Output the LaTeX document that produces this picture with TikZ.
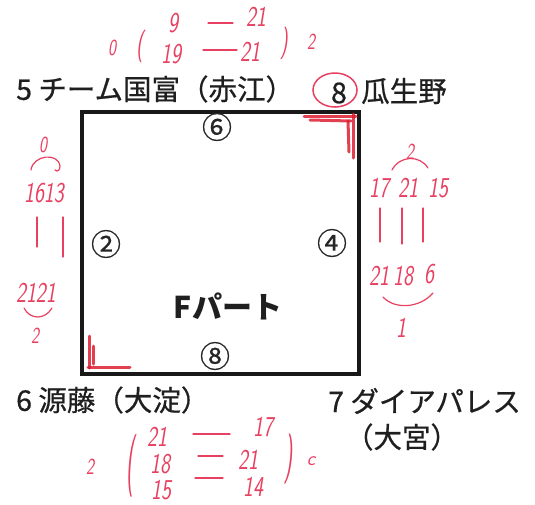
\documentclass[tikz,border=0pt]{standalone}
\usepackage{fontspec}
\newfontfamily\jp[FakeBold=0.6]{Noto Sans CJK JP}
\newfontfamily\jpb{Noto Sans CJK JP}
\definecolor{pen}{RGB}{232,64,96}
\definecolor{marker}{RGB}{222,30,50}
\newcommand\hwt[1]{\scalebox{0.85}[1.15]{#1}}
\begin{document}
\begin{tikzpicture}[x=1pt,y=-1pt,
  lbl/.style={font=\jp\fontsize{28.5}{28.5}\selectfont, inner sep=0pt, text=black!88},
  circ/.style={font=\jp\fontsize{30}{30}\selectfont, inner sep=0pt, text=black!85},
  hw/.style={font=\sffamily\itshape\fontsize{25}{25}\selectfont, text=pen, inner sep=0pt},
  hws/.style={hw, font=\sffamily\itshape\fontsize{20}{20}\selectfont},
  penline/.style={draw=pen, line width=1.2pt, line cap=round},
  mk/.style={draw=marker, line width=3pt, line cap=round, opacity=0.85}]
\useasboundingbox (0,0) rectangle (535,504);
\fill[white] (0,0) rectangle (535,504);

% box
\node[draw=black!90, line width=3.8pt, minimum width=277pt, minimum height=262pt, inner sep=0pt] (box) at (220.5,243) {};

% red corner marks
\draw[mk] (304,116) -- (356,116);
\draw[mk] (310,120) -- (351,121);
\draw[mk] (353,114) -- (353,158);
\draw[mk] (348,121) -- (349,152);
\draw[mk] (89,336) -- (89,368);
\draw[mk] (93,346) -- (93,364);
\draw[mk] (88,367) -- (130,367);

% team labels
\node[lbl, anchor=west] (t5) at (16,89) {5 チーム国富（赤江）};
\node[lbl] (n8) at (339,93) {8};
\node[lbl, anchor=west] (t8) at (361,91) {瓜生野};
\node[lbl, anchor=west] (t6) at (16,400) {6 源藤（大淀）};
\node[lbl, anchor=west] (t7) at (328,401) {7 ダイアパレス};
\node[lbl] (t7b) at (402,437) {（大宮）};
\draw[pen, line width=1.5pt] (n8.center) ++(-4,-3) ellipse [x radius=22, y radius=17];

% match numbers
\node[circ] (m6) at (217,127) {⑥};
\node[circ] (m2) at (106,244) {②};
\node[circ] (m4) at (332,243) {④};
\node[circ] (m8) at (215,356) {⑧};
\node[font=\jpb\bfseries\fontsize{30}{30}\selectfont, inner sep=0pt, text=black!88] (fp) at (228,306) {Fパート};

% top score 5 vs 8
\node[hw] (a1) at (173,23) {\hwt{9}};
\node[hw] (a2) at (256,17) {\hwt{21}};
\node[hws] (a0) at (112,48) {\hwt{0}};
\node[hw] (ap) at (140,46) {\scalebox{0.8}[1.3]{(}};
\node[hw] (a3) at (171,54) {\hwt{19}};
\node[hw] (a4) at (250,52) {\hwt{21}};
\node[hw] (aq) at (284,43) {\scalebox{0.8}[1.3]{)}};
\node[hws] (a5) at (311,42) {\hwt{2}};
\coordinate (d1a) at (208,23); \coordinate (d1b) at (233,23);
\coordinate (d2a) at (203,50); \coordinate (d2b) at (237,50);
\draw[penline] (d1a) -- (d1b);
\draw[penline] (d2a) -- (d2b);

% left score 5 vs 6
\node[hws] (b0) at (43,145) {\hwt{0}};
\node[hw] (b1) at (44,193) {\hwt{1613}};
\node[hw] (b2) at (36,293) {\hwt{2121}};
\node[hws] (b3) at (35,336) {\hwt{2}};
\coordinate (bl1a) at (37,217); \coordinate (bl1b) at (37,247);
\coordinate (bl2a) at (63,217); \coordinate (bl2b) at (63,257);
\draw[penline] (bl1a) -- (bl1b);
\draw[penline] (bl2a) -- (bl2b);
\draw[penline] (31,170) .. controls (33,155) and (58,152) .. (60,166) .. controls (60,171) and (57,172) .. (55,170);
\draw[penline] (24,308) .. controls (30,320) and (45,320) .. (52,308);

% right score 8 vs 7
\node[hws] (c0) at (410,152) {\hwt{2}};
\node[hw] (c1) at (379,188) {\hwt{17}};
\node[hw] (c2) at (408,188) {\hwt{21}};
\node[hw] (c3) at (438,188) {\hwt{15}};
\node[hw] (c4) at (379,276) {\hwt{21}};
\node[hw] (c5) at (403,276) {\hwt{18}};
\node[hw] (c6) at (429,274) {\hwt{6}};
\node[hw] (c7) at (401,328) {\hwt{1}};
\coordinate (cl1a) at (380,208); \coordinate (cl1b) at (380,242);
\coordinate (cl2a) at (402,208); \coordinate (cl2b) at (402,244);
\coordinate (cl3a) at (423,208); \coordinate (cl3b) at (423,242);
\draw[penline] (cl1a) -- (cl1b);
\draw[penline] (cl2a) -- (cl2b);
\draw[penline] (cl3a) -- (cl3b);
\draw[penline] (392,170) .. controls (400,155) and (420,155) .. (428,168);
\draw[penline] (383,297) .. controls (395,310) and (420,308) .. (433,293);

% bottom score 6 vs 7
\node[hws] (e0) at (90,467) {\hwt{2}};
\node[hw] (ep) at (131,466) {\scalebox{0.9}[2.5]{(}};
\node[hw] (e1) at (157,437) {\hwt{21}};
\node[hw] (e2) at (160,464) {\hwt{18}};
\node[hw] (e3) at (161,490) {\hwt{15}};
\node[hw] (e4) at (263,427) {\hwt{17}};
\node[hw] (e5) at (248,460) {\hwt{21}};
\node[hw] (e6) at (253,487) {\hwt{14}};
\node[hw] (eq) at (289,459) {\scalebox{0.9}[2]{)}};
\node[hws] (e7) at (311,461) {c};
\coordinate (f1a) at (193,434); \coordinate (f1b) at (230,434);
\coordinate (f2a) at (198,456); \coordinate (f2b) at (223,456);
\coordinate (f3a) at (195,478); \coordinate (f3b) at (223,478);
\draw[penline] (f1a) -- (f1b);
\draw[penline] (f2a) -- (f2b);
\draw[penline] (f3a) -- (f3b);
\end{tikzpicture}
\end{document}
